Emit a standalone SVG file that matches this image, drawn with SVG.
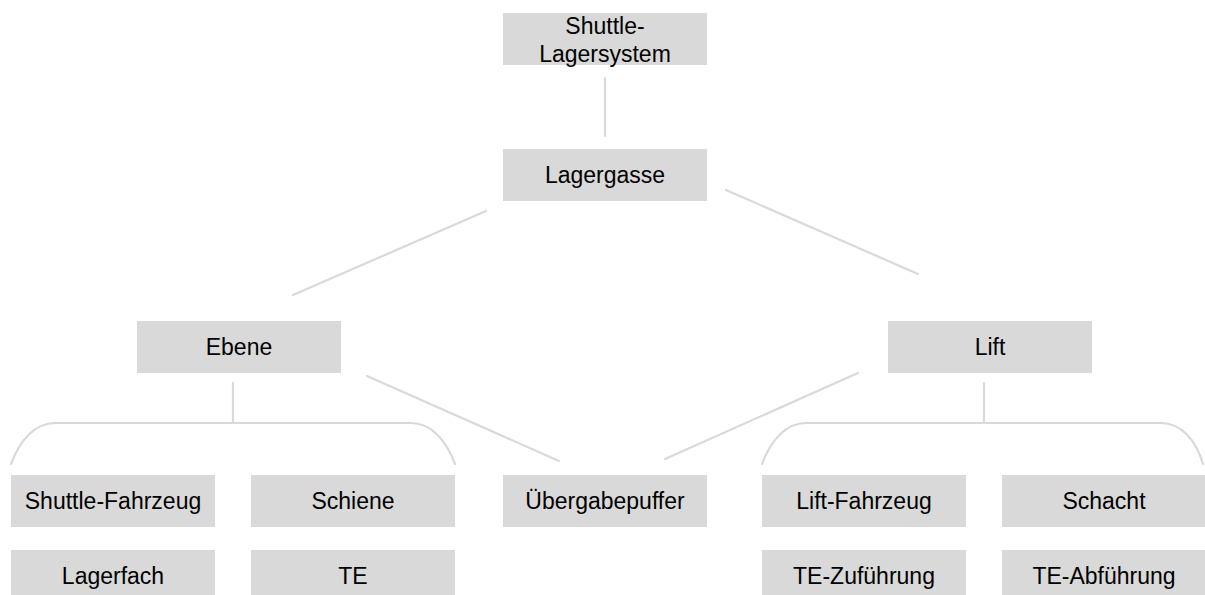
<svg xmlns="http://www.w3.org/2000/svg" width="1205" height="595" viewBox="0 0 1205 595">
<style>
.box{fill:#d9d9d9}
.t{font-family:"Liberation Sans",Arial,sans-serif;font-size:23px;fill:#000;text-anchor:middle}
.c{fill:none;stroke:#d9d9d9;stroke-width:2.2;stroke-linecap:round}
</style>
<rect width="1205" height="595" fill="#fff"/>
<g id="connectors">
<line class="c" x1="605" y1="78" x2="605" y2="136"/>
<line class="c" x1="486" y1="211" x2="293" y2="295"/>
<line class="c" x1="726" y1="190" x2="918" y2="274"/>
<line class="c" x1="367" y1="376" x2="559" y2="461"/>
<line class="c" x1="858" y1="373" x2="665" y2="459"/>
<line class="c" x1="233" y1="383" x2="233" y2="423"/>
<path class="c" d="M11,464 C20,440 35,423 55,423 L411,423 C431,423 446,440 455,464"/>
<line class="c" x1="984" y1="383" x2="984" y2="423"/>
<path class="c" d="M762,464 C771,440 786,423 806,423 L1161,423 C1181,423 1196,440 1203,464"/>
</g>
<g id="n-system"><rect class="box" x="503" y="13" width="204" height="52"/><text class="t" x="605" y="33.5">Shuttle-</text><text class="t" x="605" y="61.5">Lagersystem</text></g>
<g id="n-lagergasse"><rect class="box" x="503" y="149" width="204" height="52"/><text class="t" x="605" y="183.3">Lagergasse</text></g>
<g id="n-ebene"><rect class="box" x="137" y="321" width="204" height="52"/><text class="t" x="239" y="355.3">Ebene</text></g>
<g id="n-lift"><rect class="box" x="888" y="321" width="204" height="52"/><text class="t" x="990" y="355.3">Lift</text></g>
<g id="n-shuttle-fahrzeug"><rect class="box" x="11" y="475" width="204" height="52"/><text class="t" x="113" y="509.3">Shuttle-Fahrzeug</text></g>
<g id="n-schiene"><rect class="box" x="251" y="475" width="204" height="52"/><text class="t" x="353" y="509.3">Schiene</text></g>
<g id="n-uebergabepuffer"><rect class="box" x="503" y="475" width="204" height="52"/><text class="t" x="605" y="509.3">Übergabepuffer</text></g>
<g id="n-lift-fahrzeug"><rect class="box" x="762" y="475" width="204" height="52"/><text class="t" x="864" y="509.3">Lift-Fahrzeug</text></g>
<g id="n-schacht"><rect class="box" x="1002" y="475" width="204" height="52"/><text class="t" x="1104" y="509.3">Schacht</text></g>
<g id="n-lagerfach"><rect class="box" x="11" y="550" width="204" height="52"/><text class="t" x="113" y="584.3">Lagerfach</text></g>
<g id="n-te"><rect class="box" x="251" y="550" width="204" height="52"/><text class="t" x="353" y="584.3">TE</text></g>
<g id="n-te-zufuehrung"><rect class="box" x="762" y="550" width="204" height="52"/><text class="t" x="864" y="584.3">TE-Zuführung</text></g>
<g id="n-te-abfuehrung"><rect class="box" x="1002" y="550" width="204" height="52"/><text class="t" x="1104" y="584.3">TE-Abführung</text></g>
</svg>
